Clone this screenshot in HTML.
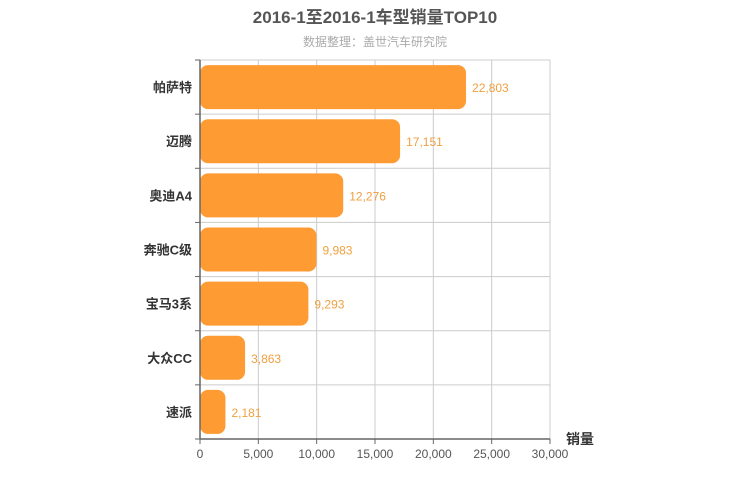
<!DOCTYPE html>
<html><head><meta charset="utf-8"><style>
body{margin:0;background:#fff;}
svg{display:block;font-family:"Liberation Sans","Noto Sans CJK SC",sans-serif;}
</style></head><body>
<svg id="c" width="750" height="500">
<text x="375" y="23" text-anchor="middle" font-size="17" font-weight="bold" fill="#555">2016-1至2016-1车型销量TOP10</text>
<text x="375" y="46" text-anchor="middle" font-size="12" fill="#aaa">数据整理：盖世汽车研究院</text>
<text x="580" y="444" text-anchor="middle" font-size="14" font-weight="bold" fill="#333">销量</text>
<g id="grid"></g><g id="bars"></g><g id="axes"></g>
</svg>
<script>
const categories=["帕萨特","迈腾","奥迪A4","奔驰C级","宝马3系","大众CC","速派"];
const values=[22803,17151,12276,9983,9293,3863,2181];
const ticks=[0,5000,10000,15000,20000,25000,30000];
const X0=200,X1=550,Y0=60,Y1=439;
const x=v=>X0+(v-0)/(30000)*(X1-X0);
const rh=(Y1-Y0)/categories.length;
const ns="http://www.w3.org/2000/svg";
function mk(t,a,p){const e=document.createElementNS(ns,t);for(const k in a)e.setAttribute(k,a[k]);p.appendChild(e);return e;}
const grid=document.getElementById('grid'),bars=document.getElementById('bars'),axes=document.getElementById('axes');
ticks.forEach(t=>{
 if(t>0){const l=mk('line',{x1:x(t),x2:x(t),y1:Y0,y2:Y1,stroke:'#ccc'},grid);
 
 }
 const tk=mk('line',{x1:x(t),x2:x(t),y1:Y1,y2:Y1+5,stroke:'#666'},axes);
 
 
 const tx=mk('text',{x:x(t),y:Y1+19,'text-anchor':'middle','font-size':12,fill:'#555'},axes);
 tx.textContent=t.toLocaleString('en-US');
 
 
});
for(let i=0;i<=categories.length;i++){
 const y=Y0+i*rh;
 const l=mk('line',{x1:X0,x2:X1,y1:y,y2:y,stroke:'#ccc'},grid);
 
 
 const tk=mk('line',{x1:X0-5,x2:X0,y1:y,y2:y,stroke:'#666'},axes);
 
 
}
const ax=mk('line',{x1:X0,x2:X0,y1:Y0,y2:Y1,stroke:'#666','stroke-width':1.5},axes);


const ax2=mk('line',{x1:X0,x2:X1,y1:Y1,y2:Y1,stroke:'#666','stroke-width':1.5},axes);


categories.forEach((c,i)=>{
 const cy=Y0+(i+0.5)*rh;
 const r=mk('rect',{x:X0,y:cy-22,width:x(values[i])-X0,height:44,rx:8,fill:'#ff9b33'},bars);
 
 
 const v=mk('text',{x:x(values[i])+6,y:cy+5,'font-size':12,fill:'#f0a040'},bars);
 v.textContent=values[i].toLocaleString('en-US');
 
 
 const t=mk('text',{x:X0-8,y:cy+5,'text-anchor':'end','font-size':13,'font-weight':'bold',fill:'#333'},axes);
 t.textContent=c;
 
 
});
</script>
</body></html>
